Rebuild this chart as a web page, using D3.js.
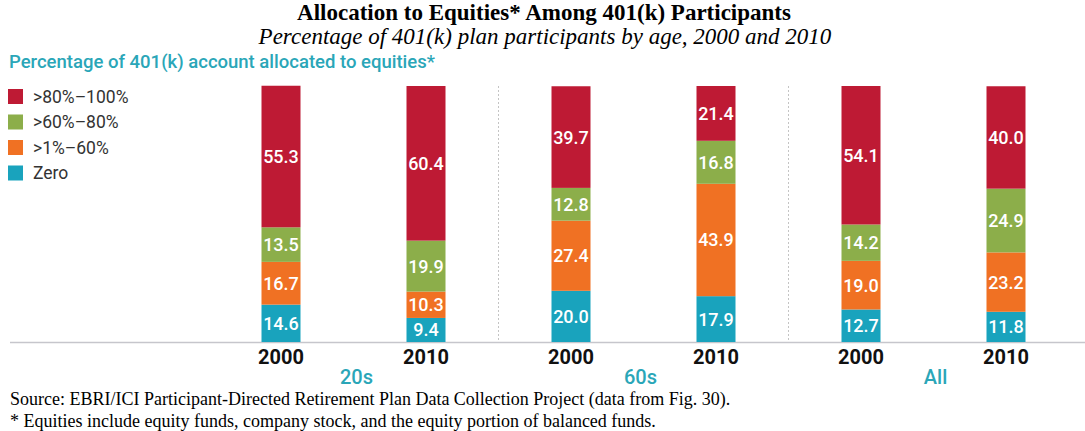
<!DOCTYPE html>
<html>
<head>
<meta charset="utf-8">
<script src="https://cdn.jsdelivr.net/npm/d3@7"></script>
<style>
  html, body { margin: 0; padding: 0; background: #fff; }
  svg { display: block; }
</style>
</head>
<body>
<svg id="chart" width="1085" height="431"></svg>
<script>
// ---- data ----
const groups = ["20s", "60s", "All"];
const years = ["2000", "2010"];
const seriesNames = ["Zero", ">1%–60%", ">60%–80%", ">80%–100%"];
const zero      = [14.6, 9.4, 20.0, 17.9, 12.7, 11.8];
const upTo60    = [16.7, 10.3, 27.4, 43.9, 19.0, 23.2];
const upTo80    = [13.5, 19.9, 12.8, 16.8, 14.2, 24.9];
const upTo100   = [55.3, 60.4, 39.7, 21.4, 54.1, 40.0];
const colors = ["#19a3bd", "#f07123", "#8cae4a", "#be1a34"];

const rows = [];
groups.forEach((g, gi) => years.forEach((y, yi) => {
  const i = gi * 2 + yi;
  rows.push({ key: g + "-" + y, group: g, year: y,
    "Zero": zero[i], ">1%–60%": upTo60[i], ">60%–80%": upTo80[i], ">80%–100%": upTo100[i] });
}));

const svg = d3.select("#chart");

const x = d3.scaleBand().domain(rows.map(d => d.key))
  .range([208.5, 1078.5]).paddingInner(1 - 39 / 145).paddingOuter((1 - 39 / 145) / 2);
const y = d3.scaleLinear().domain([0, 100]).range([342, 86]);
const color = d3.scaleOrdinal().domain(seriesNames).range(colors);

const stack = d3.stack().keys(seriesNames);
const stacked = stack(rows);

// titles
svg.append("text").attr("x", 544).attr("y", 20).attr("text-anchor", "middle")
  .attr("font-family", "Liberation Serif, Times New Roman, serif").attr("font-weight", "bold")
  .attr("font-size", 23).attr("fill", "#000")
  .text("Allocation to Equities* Among 401(k) Participants");
svg.append("text").attr("x", 545).attr("y", 44).attr("text-anchor", "middle")
  .attr("font-family", "Liberation Serif, Times New Roman, serif").attr("font-style", "italic")
  .attr("font-size", 23).attr("fill", "#000")
  .text("Percentage of 401(k) plan participants by age, 2000 and 2010");
svg.append("text").attr("x", 9).attr("y", 68)
  .attr("font-family", "Roboto, sans-serif").attr("font-size", 18.5).attr("font-weight", 500)
  .attr("fill", "#2aa6b8")
  .text("Percentage of 401(k) account allocated to equities*");

// baseline
svg.append("line").attr("x1", 10).attr("x2", 1085).attr("y1", y(0) + 0.5).attr("y2", y(0) + 0.5)
  .attr("stroke", "#c6c6cc").attr("stroke-width", 1.5);

// dividers between groups
const dividers = [1, 3].map(i => (x(rows[i].key) + x.bandwidth() + x(rows[i + 1].key)) / 2);
svg.selectAll("line.div").data(dividers).join("line").attr("class", "div")
  .attr("x1", d => d).attr("x2", d => d).attr("y1", y(100)).attr("y2", y(0))
  .attr("stroke", "#c4c4c4").attr("stroke-width", 1).attr("stroke-dasharray", "2,2");

// bars
const layer = svg.selectAll("g.layer").data(stacked).join("g").attr("class", "layer")
  .attr("fill", d => color(d.key));
layer.selectAll("rect").data(d => d).join("rect")
  .attr("x", d => x(d.data.key)).attr("width", x.bandwidth())
  .attr("y", d => y(d[1])).attr("height", d => y(d[0]) - y(d[1]));

// value labels
layer.selectAll("text").data(d => d).join("text")
  .attr("x", d => x(d.data.key) + x.bandwidth() / 2)
  .attr("y", d => (y(d[0]) + y(d[1])) / 2)
  .attr("dy", "0.36em").attr("text-anchor", "middle")
  .attr("font-family", "Roboto, sans-serif").attr("font-size", 18).attr("font-weight", 500)
  .attr("fill", "#fff")
  .text(d => (d[1] - d[0]).toFixed(1));

// year tick labels
const xAxis = d3.axisBottom(x).tickSize(0).tickPadding(0).tickFormat(k => k.split("-")[1]);
const axG = svg.append("g").attr("transform", `translate(0,${y(0) + 8})`).call(xAxis);
axG.select(".domain").remove();
axG.selectAll("text").attr("font-family", "Roboto, sans-serif").attr("font-weight", "bold")
  .attr("font-size", 20).attr("fill", "#111").attr("dy", "0.71em");

// group labels
svg.selectAll("text.grp").data(groups).join("text").attr("class", "grp")
  .attr("x", (g, gi) => (x(rows[gi * 2].key) + x(rows[gi * 2 + 1].key)) / 2 + x.bandwidth() / 2 + [3, -3, 2][gi])
  .attr("y", 384).attr("text-anchor", "middle")
  .attr("font-family", "Roboto, sans-serif").attr("font-size", 20).attr("font-weight", 500)
  .attr("fill", "#2aa6b8")
  .text(g => g);

// legend
const legendOrder = seriesNames.slice().reverse();
const lg = svg.append("g").selectAll("g").data(legendOrder).join("g")
  .attr("transform", (d, i) => `translate(8,${89 + i * 25.5})`);
lg.append("rect").attr("width", 15).attr("height", 15).attr("fill", d => color(d));
lg.append("text").attr("x", 25).attr("y", 7.5).attr("dy", "0.36em")
  .attr("font-family", "Roboto, sans-serif").attr("font-size", 17.5).attr("fill", "#333")
  .text(d => d);

// footnotes
const notes = ["Source: EBRI/ICI Participant-Directed Retirement Plan Data Collection Project (data from Fig. 30).",
  "* Equities include equity funds, company stock, and the equity portion of balanced funds."];
svg.selectAll("text.note").data(notes).join("text").attr("class", "note")
  .attr("x", 10).attr("y", (d, i) => 405 + i * 22)
  .attr("font-family", "Liberation Serif, Times New Roman, serif").attr("font-size", 18).attr("fill", "#000")
  .text(d => d);
</script>
</body>
</html>
